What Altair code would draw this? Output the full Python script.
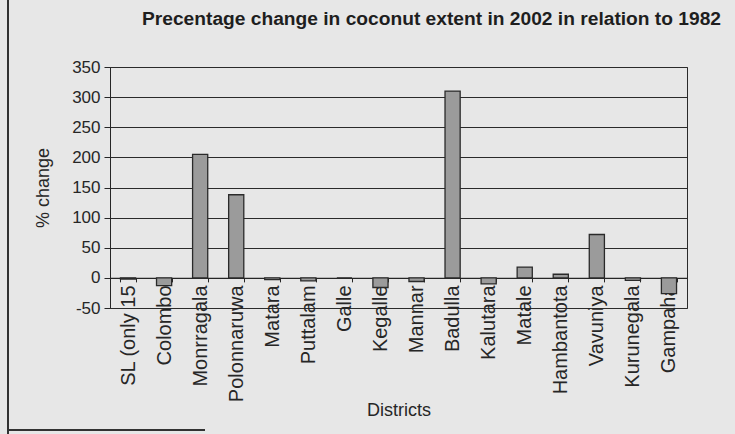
import altair as alt
import pandas as pd

# Percentage change in coconut extent, 2002 vs 1982, by district
districts = [
    "SL (only 15", "Colombo", "Monrragala", "Polonnaruwa", "Matara",
    "Puttalam", "Galle", "Kegalle", "Mannar", "Badulla", "Kalutara",
    "Matale", "Hambantota", "Vavuniya", "Kurunegala", "Gampaha",
]
pct_change = [-2, -13, 205, 138, -3, -5, 0, -16, -6, 310, -10, 18, 6, 72, -4, -26]

y_ticks = [-50, 0, 50, 100, 150, 200, 250, 300, 350]

df = pd.DataFrame({"district": districts, "change": pct_change})

W, H = 577, 241
Y_MIN, Y_MAX = -50, 350
zero_offset = H * (0 - Y_MIN) / (Y_MAX - Y_MIN)

FONT = "Liberation Sans"
INK = "#262626"
PAPER = "#e7e7e7"

bars = alt.Chart(df).mark_bar(
    fill="#9b9b9b", stroke="#2a2a2a", strokeWidth=1.3
).encode(
    x=alt.X(
        "district:N",
        sort=None,
        scale=alt.Scale(paddingInner=0.58, paddingOuter=0.29),
        axis=alt.Axis(
            title="Districts",
            titleFont=FONT,
            titleFontSize=18,
            titleFontWeight="normal",
            titleColor=INK,
            titleY=138,
            titleBaseline="alphabetic",
            labelAngle=270,
            labelAlign="right",
            labelBaseline="middle",
            labelFont=FONT,
            labelFontSize=20,
            labelColor=INK,
            labelPadding=3,
            labelLimit=200,
            tickBand="extent",
            tickSize=4,
            tickColor=INK,
            domainColor=INK,
            domainWidth=1.2,
            offset=-zero_offset,
            grid=False,
        ),
    ),
    y=alt.Y(
        "change:Q",
        scale=alt.Scale(domain=[Y_MIN, Y_MAX], nice=False),
        axis=alt.Axis(
            title="% change",
            titleFont=FONT,
            titleFontSize=18,
            titleFontWeight="normal",
            titleColor=INK,
            titleX=-67,
            titleBaseline="middle",
            values=y_ticks,
            labelExpr="'' + datum.value",
            labelFont=FONT,
            labelFontSize=17,
            labelColor=INK,
            labelPadding=4,
            tickSize=6,
            tickColor=INK,
            domainColor=INK,
            grid=True,
            gridColor="#2b2b2b",
            gridWidth=1,
        ),
    ),
)

# Outer frame edges of the chart area
left_edge = alt.Chart(df).mark_rule(color="#333333", strokeWidth=1).encode(
    x=alt.value(-102), y=alt.value(-67), y2=alt.value(H + 130)
)
bottom_edge = alt.Chart(df).mark_rule(color="#333333", strokeWidth=1).encode(
    x=alt.value(-102), x2=alt.value(95), y=alt.value(H + 122)
)

chart = (
    alt.layer(bars, left_edge, bottom_edge)
    .properties(
        width=W,
        height=H,
        padding={"left": 110, "top": 67, "right": 48, "bottom": 126},
        autosize=alt.AutoSizeParams(type="none"),
        background=PAPER,
        title=alt.TitleParams(
            "Precentage change in coconut extent in 2002 in relation to 1982",
            font="Liberation Sans Narrow, Liberation Sans",
            fontSize=19.2,
            fontWeight="bold",
            color="#1e1e1e",
            anchor="middle",
            baseline="alphabetic",
            dx=33,
            dy=45,
            offset=0,
        ),
    )
    .configure_view(stroke="#2b2b2b", strokeWidth=1)
)

chart.save("out.html", embed_options={"renderer": "svg", "actions": False})
